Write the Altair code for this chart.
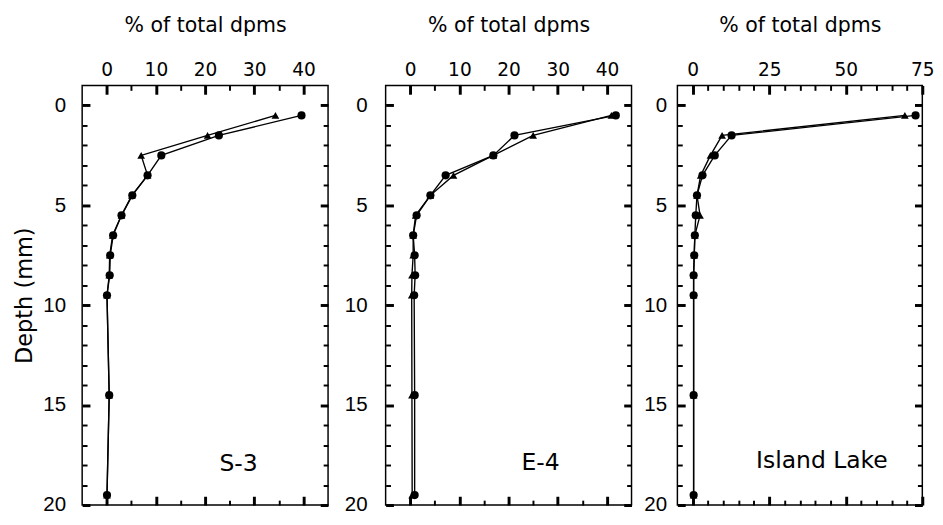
import altair as alt
import pandas as pd

# ---------------- data ----------------
depth = [0.5, 1.5, 2.5, 3.5, 4.5, 5.5, 6.5, 7.5, 8.5, 9.5, 14.5, 19.5]

s3_circle = [39.6, 22.8, 11.1, 8.3, 5.2, 3.0, 1.3, 0.7, 0.6, 0.05, 0.5, 0.05]
s3_triangle = [34.3, 20.5, 7.0, 8.3, 5.1, 3.0, 1.2, 0.6, 0.5, 0.05, 0.5, 0.05]

e4_circle = [41.8, 21.2, 16.9, 7.2, 4.1, 1.3, 0.6, 0.9, 1.0, 0.8, 0.9, 0.9]
e4_triangle = [40.9, 25.0, 16.9, 8.8, 4.1, 1.1, 0.6, 0.6, 0.35, 0.3, 0.35, 0.4]

il_circle = [72.8, 12.7, 7.2, 3.2, 1.4, 1.0, 0.7, 0.5, 0.3, 0.3, 0.3, 0.3]
il_triangle = [69.3, 9.6, 5.8, 2.6, 1.4, 2.4, 0.7, 0.5, 0.3, 0.3, 0.3, 0.3]

site_names = ["S-3", "E-4", "Island Lake"]
site_label_x = [26.8, 26.5, 42.2]
site_label_y = [17.95, 17.9, 17.8]

x_major_40 = [0, 10, 20, 30, 40]
x_minor_40 = [5, 15, 25, 35]
x_major_75 = [0, 25, 50, 75]
x_minor_75 = [5, 10, 15, 20, 30, 35, 40, 45, 55, 60, 65, 70]
y_major = [0, 5, 10, 15, 20]
y_minor = [1, 2, 3, 4, 6, 7, 8, 9, 11, 12, 13, 14, 16, 17, 18, 19]

x_title = "% of total dpms"
y_title = "Depth (mm)"

XFONT = "DejaVu Sans"
YFONT = "Liberation Sans"


def xaxis(orient, values, major, labels, title=None):
    size = 9 if major else 5
    kw = dict(
        orient=orient, values=values, domain=False, grid=False,
        ticks=True, tickColor="black", tickSize=size,
        tickWidth=3 if major else 2, offset=-size,
        labels=labels, title=title,
    )
    if labels:
        kw.update(labelFont=XFONT, labelFontSize=19, labelColor="black",
                  labelPadding=6, labelFlush=False, labelOverlap=False,
                  labelBound=False)
    if title:
        kw.update(titleFont=XFONT, titleFontSize=21, titleFontWeight="normal",
                  titleColor="black", titlePadding=26)
    return alt.Axis(**kw)


def yaxis(orient, values, major, labels, labpad=17, title=None):
    size = 8 if major else 5
    kw = dict(
        orient=orient, values=values, domain=False, grid=False,
        ticks=True, tickColor="black", tickSize=size,
        tickWidth=3 if major else 2, offset=-size,
        labels=labels, title=title,
    )
    if labels:
        kw.update(labelFont=YFONT, labelFontSize=21, labelColor="black",
                  labelPadding=labpad, labelFlush=False, labelOverlap=False,
                  labelBound=False)
    if title:
        kw.update(titleFont=XFONT, titleFontSize=23, titleFontWeight="normal",
                  titleColor="black", titlePadding=7)
    return alt.Axis(**kw)


def panel(idx, circ, tri, xdom, xmaj, xmin, labpad, show_ytitle, width):
    rows = []
    for d, t in zip(depth, tri):
        rows.append({"depth": d, "pct": t, "series": "triangle"})
    for d, c in zip(depth, circ):
        rows.append({"depth": d, "pct": c, "series": "circle"})
    df = pd.DataFrame(rows)
    ann = pd.DataFrame({"x": [site_label_x[idx]], "y": [site_label_y[idx]],
                        "t": [site_names[idx]]})

    xsc = alt.Scale(domain=xdom, nice=False, zero=False)
    ysc = alt.Scale(domain=[-1, 20], reverse=True, nice=False, zero=False)
    base = alt.Chart(df)

    lines = base.mark_line(color="black", strokeWidth=1.4).encode(
        x=alt.X("pct:Q", scale=xsc,
                axis=xaxis("top", xmaj, True, True, x_title)),
        y=alt.Y("depth:Q", scale=ysc,
                axis=yaxis("left", y_major, True, True, labpad,
                           y_title if show_ytitle else None)),
        detail="series:N",
        order="depth:Q",
    )
    tris = base.transform_filter(alt.datum.series == "triangle").mark_point(
        shape="triangle-up", filled=True, size=62, color="black", opacity=1
    ).encode(
        x=alt.X("pct:Q", scale=xsc, axis=xaxis("bottom", xmaj, True, False)),
        y=alt.Y("depth:Q", scale=ysc, axis=yaxis("right", y_major, True, False)),
    )
    circs = base.transform_filter(alt.datum.series == "circle").mark_circle(
        size=70, color="black", opacity=1
    ).encode(
        x=alt.X("pct:Q", scale=xsc, axis=xaxis("top", xmin, False, False)),
        y=alt.Y("depth:Q", scale=ysc, axis=yaxis("left", y_minor, False, False)),
    )
    ghost = base.mark_point(opacity=0).encode(
        x=alt.X("pct:Q", scale=xsc, axis=xaxis("bottom", xmin, False, False)),
        y=alt.Y("depth:Q", scale=ysc, axis=yaxis("right", y_minor, False, False)),
    )
    text = alt.Chart(ann).mark_text(
        font=XFONT, fontSize=24, color="black", align="center", baseline="middle"
    ).encode(
        x=alt.X("x:Q", scale=xsc, axis=None),
        y=alt.Y("y:Q", scale=ysc, axis=None),
        text="t:N",
    )
    return alt.layer(lines, tris, circs, ghost, text).resolve_axis(
        x="independent", y="independent"
    ).properties(width=width, height=430)


p1 = panel(0, s3_circle, s3_triangle, [-5, 45], x_major_40, x_minor_40, 17, True, 252)
p2 = panel(1, e4_circle, e4_triangle, [-5, 45], x_major_40, x_minor_40, 19, False, 252)
p3 = panel(2, il_circle, il_triangle, [-5, 75], x_major_75, x_minor_75, 11, False, 251)

chart = alt.hconcat(
    alt.hconcat(p1, p2, spacing=12), p3, spacing=8
).properties(
    padding={"left": 4, "top": 0, "right": 0, "bottom": 0},
    background="white",
).configure_view(
    stroke="black", strokeWidth=1.5
)

chart.save("out.html", embed_options={"renderer": "svg", "actions": False})
